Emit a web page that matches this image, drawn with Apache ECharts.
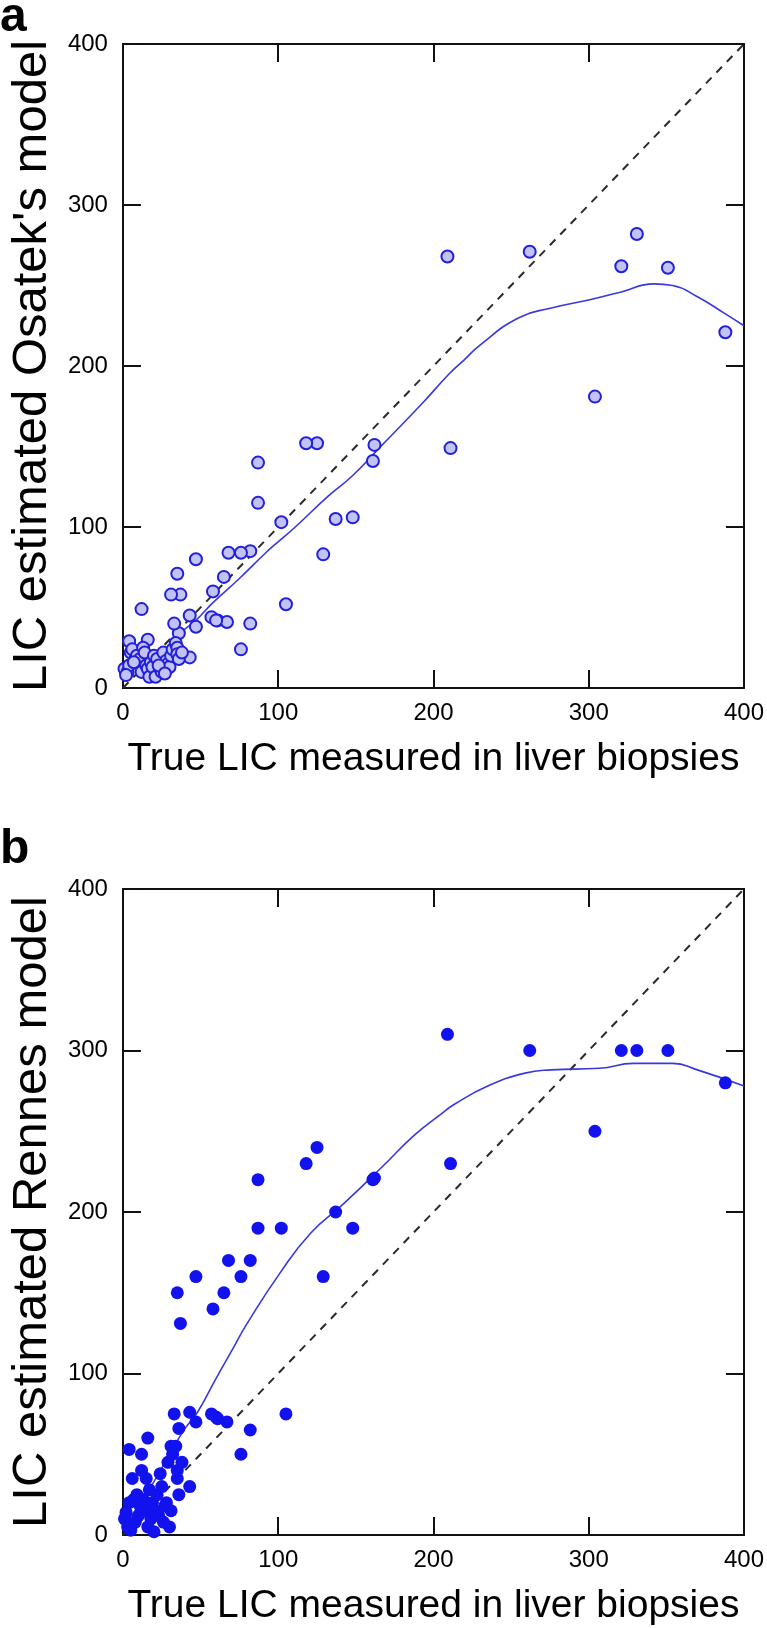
<!DOCTYPE html>
<html>
<head>
<meta charset="utf-8">
<script src="https://cdn.jsdelivr.net/npm/echarts@6/dist/echarts.min.js"></script>
<style>
html,body{margin:0;padding:0;background:#fff;}
#chart{width:767px;height:1628px;}
</style>
</head>
<body>
<div id="chart"></div>
<script>
// shared biopsy values (x) and model estimates
const trueLIC = [388,351,331,321,304,262,211,209,162,161,148,137,129,125,118,105,102,87,87,82,82,76,68,76,47,35,65,58,37,31,57,61,67,60,43,47,36,33,16,4,12,43,
  1,3,4,5,6,8,9,10,11,12,13,14,15,16,17,18,19,20,21,22,24,25,26,28,29,30,31,32,34,35,35,36,38,7,2,23,27];
const osatekLIC = [221,261,282,262,181,271,149,268,151,141,106,105,83,152,152,52,103,140,115,85,40,24,84,84,80,71,69,60,58,58,44,42,41,42,45,38,34,40,30,29,49,19,
  12,10,14,22,24,18,20,16,18,10,25,22,14,12,7,16,13,20,7,18,12,10,22,17,15,13,20,24,28,25,21,18,22,16,8,14,9];
const rennesLIC = [280,300,300,300,250,300,230,310,221,220,190,200,160,240,230,75,190,220,190,170,65,50,170,160,160,150,150,140,131,55,75,72,70,73,76,70,66,75,60,53,50,30,
  10,5,20,3,35,8,25,12,18,40,22,15,35,5,28,10,20,2,15,25,38,30,8,20,45,5,15,50,55,40,35,25,45,22,14,12,18];

// smoothed fits
const fitOsatekX = [3,10,20,30,37,47,58,75,92,99,111,132,148,165,193,210,220,230,255,276,300,321,342,354,370,387,400];
const fitOsatekY = [12,14,18,25,34,42,53,68,84,90,100,119,132,149,177,195,204,213,230,236,241,246,251,250,243,233,225];
const fitRennesX = [3,10,20,30,40,48,60,70,80,101,121,142,167,187,204,214,235,259,276,307,329,354,370,400];
const fitRennesY = [8,18,33,50,66,76,97,114,131,162,187,205,228,247,260,267,278,286,288,289,292,292,288,278];

const identityLine = [[0,0],[400,400]];
const axisMin = 0, axisMax = 400, axisStep = 100;

const zip = (a,b) => a.map((v,i)=>[v,b[i]]);
const FONT = 'Liberation Sans, Arial, sans-serif';
const lineCol = '#111';

function xAxes(gi){
  const base = {gridIndex:gi,type:'value',min:axisMin,max:axisMax,interval:axisStep,
    splitLine:{show:false},
    axisLine:{show:true,onZero:false,lineStyle:{color:lineCol,width:2}},
    axisTick:{show:true,inside:true,length:18,lineStyle:{color:lineCol,width:2}}};
  return [
    Object.assign({},base,{position:'bottom',
      axisLabel:{show:true,fontSize:24,color:'#000',margin:13,fontFamily:FONT,showMinLabel:true,showMaxLabel:true},
      name:'True LIC measured in liver biopsies',nameLocation:'middle',nameGap:52,
      nameTextStyle:{fontSize:39,color:'#000',fontFamily:FONT}}),
    Object.assign({},base,{position:'top',axisLabel:{show:false}})
  ];
}
function yAxes(gi,name){
  const base = {gridIndex:gi,type:'value',min:axisMin,max:axisMax,interval:axisStep,
    splitLine:{show:false},
    axisLine:{show:true,onZero:false,lineStyle:{color:lineCol,width:2}},
    axisTick:{show:true,inside:true,length:18,lineStyle:{color:lineCol,width:2}}};
  return [
    Object.assign({},base,{position:'left',
      axisLabel:{show:true,fontSize:24,color:'#000',margin:15,fontFamily:FONT,showMinLabel:true,showMaxLabel:true},
      name:name,nameLocation:'middle',nameRotate:90,nameGap:60,
      nameTextStyle:{fontSize:49,color:'#000',fontFamily:FONT}}),
    Object.assign({},base,{position:'right',axisLabel:{show:false}})
  ];
}

const chart = echarts.init(document.getElementById('chart'),null,{renderer:'canvas'});
chart.setOption({
  animation:false,
  backgroundColor:'#fff',
  grid:[
    {left:100,top:44,width:648,height:644},
    {left:100,top:889,width:648,height:646}
  ],
  xAxis:[...xAxes(0),...xAxes(1)],
  yAxis:[...yAxes(0,"LIC estimated Osatek's model"),...yAxes(1,'LIC estimated Rennes model')],
  graphic:[
    {type:'text',left:0,top:-6,style:{text:'a',fontSize:48,fontWeight:'bold',fill:'#000',fontFamily:FONT}},
    {type:'text',left:0,top:832-6,style:{text:'b',fontSize:48,fontWeight:'bold',fill:'#000',fontFamily:FONT}}
  ],
  series:[
    {type:'line',xAxisIndex:0,yAxisIndex:0,data:identityLine,symbol:'none',silent:true,
      lineStyle:{color:'#2a2a2a',width:2,type:[8,7]},z:2},
    {type:'line',xAxisIndex:0,yAxisIndex:0,data:zip(fitOsatekX,fitOsatekY),symbol:'none',smooth:0.5,
      lineStyle:{color:'#3838e0',width:1.6},z:3},
    {type:'scatter',xAxisIndex:0,yAxisIndex:0,data:zip(trueLIC,osatekLIC),symbol:'circle',symbolSize:12,
      itemStyle:{color:'#c2c2f4',borderColor:'#2020dc',borderWidth:2,opacity:1},z:4},
    {type:'line',xAxisIndex:2,yAxisIndex:2,data:identityLine,symbol:'none',silent:true,
      lineStyle:{color:'#2a2a2a',width:2,type:[8,7]},z:2},
    {type:'line',xAxisIndex:2,yAxisIndex:2,data:zip(fitRennesX,fitRennesY),symbol:'none',smooth:0.5,
      lineStyle:{color:'#3838e0',width:1.6},z:3},
    {type:'scatter',xAxisIndex:2,yAxisIndex:2,data:zip(trueLIC,rennesLIC),symbol:'circle',symbolSize:13,
      itemStyle:{color:'#1212ee',opacity:1},z:4}
  ]
});
</script>
</body>
</html>
